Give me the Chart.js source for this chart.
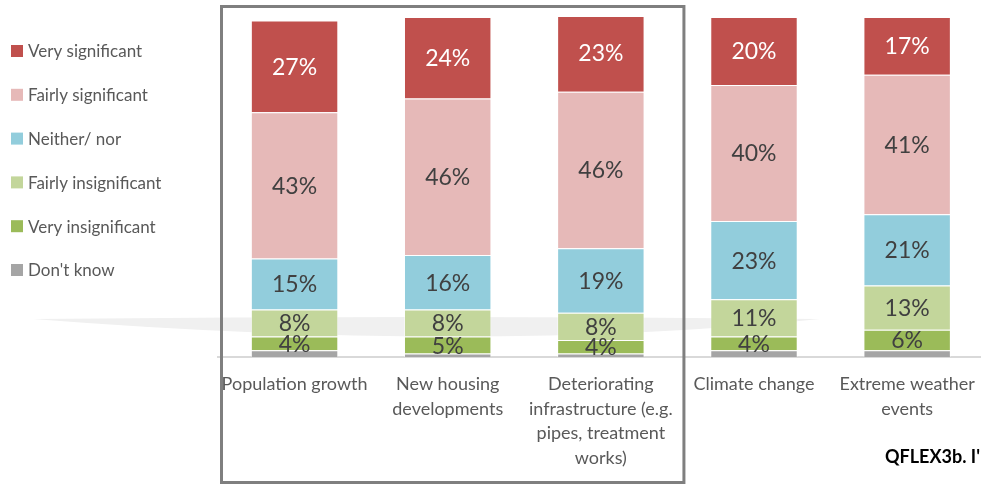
<!DOCTYPE html>
<html>
<head>
<meta charset="utf-8">
<title>Significance of pressures</title>
<script src="https://cdn.jsdelivr.net/npm/chart.js@4.4.1/dist/chart.umd.min.js"></script>
<style>
  html, body { margin: 0; padding: 0; background: #fff; overflow: hidden; }
  #wrap { position: relative; width: 990px; height: 486px; }
</style>
</head>
<body>
<div id="wrap"><canvas id="stackChart"></canvas></div>
<script>
// categories along the x axis (multi-line labels as arrays)
const categories = [
  'Population growth',
  ['New housing', 'developments'],
  ['Deteriorating', 'infrastructure (e.g.', 'pipes, treatment', 'works)'],
  'Climate change',
  ['Extreme weather', 'events']
];

// percentages per answer, bottom of the stack first
const dontKnow          = [2, 1, 1, 2, 2];
const veryInsignificant = [4, 5, 4, 4, 6];
const fairlyInsignificant = [8, 8, 8, 11, 13];
const neitherNor        = [15, 16, 19, 23, 21];
const fairlySignificant = [43, 46, 46, 40, 41];
const verySignificant   = [27, 24, 23, 20, 17];

const seriesNames = ["Don't know", 'Very insignificant', 'Fairly insignificant', 'Neither/ nor', 'Fairly significant', 'Very significant'];
const seriesValues = [dontKnow, veryInsignificant, fairlyInsignificant, neitherNor, fairlySignificant, verySignificant];
const seriesColors = ['#A5A5A5', '#9BBB59', '#C3D69B', '#92CDDC', '#E6B9B8', '#C0504D'];

const FONT = 'Lato, "Open Sans", sans-serif';

// faint swoosh behind the bars, box round the first three columns,
// value labels, legend and footnote text
const decorPlugin = {
  id: 'decor',
  beforeDatasetsDraw(chart) {
    const ctx = chart.ctx;
    ctx.save();
    ctx.fillStyle = '#f0f0f0';
    ctx.beginPath();
    ctx.moveTo(33, 319);
    ctx.quadraticCurveTo(430, 315, 820, 319);
    ctx.quadraticCurveTo(480, 354, 33, 319);
    ctx.closePath();
    ctx.fill();
    ctx.restore();
  },
  afterDatasetsDraw(chart) {
    const ctx = chart.ctx;
    ctx.save();
    ctx.font = '23px ' + FONT;
    ctx.textAlign = 'center';
    ctx.textBaseline = 'middle';
    chart.data.datasets.forEach((ds, di) => {
      if (di === 0) return; // no labels on "Don't know"
      const meta = chart.getDatasetMeta(di);
      meta.data.forEach((bar, i) => {
        const cy = (bar.y + bar.base) / 2;
        ctx.fillStyle = di === 5 ? '#ffffff' : '#404040';
        ctx.fillText(ds.data[i] + '%', bar.x, cy + 1);
      });
    });
    ctx.restore();
  },
  afterDraw(chart) {
    const ctx = chart.ctx;
    const x = chart.scales.x;
    const catW = x.getPixelForValue(1) - x.getPixelForValue(0);

    // box round the first three categories
    ctx.save();
    ctx.strokeStyle = '#7f7f7f';
    ctx.lineWidth = 3;
    const left = x.getPixelForValue(0) - catW / 2 + 3.5;
    const right = x.getPixelForValue(2) + catW / 2 + 6.5;
    ctx.strokeRect(left, 6.5, right - left, 476);

    // legend, top item first
    ctx.font = '17px ' + FONT;
    ctx.textBaseline = 'middle';
    ctx.textAlign = 'left';
    const items = chart.data.datasets.slice().reverse();
    items.forEach((ds, i) => {
      const cy = 51 + i * 43.8;
      ctx.fillStyle = ds.backgroundColor;
      ctx.fillRect(11, cy - 6, 12, 12);
      ctx.fillStyle = '#595959';
      ctx.fillText(ds.label, 28, cy + 1);
    });

    // footnote reference
    ctx.font = 'bold 18px ' + FONT;
    ctx.fillStyle = '#000000';
    ctx.textBaseline = 'alphabetic';
    ctx.fillText("QFLEX3b. I'", 885, 463);
    ctx.restore();
  }
};

const ctx = document.getElementById('stackChart').getContext('2d');
const stackChart = new Chart(ctx, {
  type: 'bar',
  data: {
    labels: categories,
    datasets: seriesNames.map((name, i) => ({
      label: name,
      data: seriesValues[i],
      backgroundColor: seriesColors[i],
      borderColor: 'rgba(255,255,255,0.45)',
      borderWidth: 1,
      barPercentage: 0.571,
      categoryPercentage: 1
    }))
  },
  options: {
    responsive: true,
    maintainAspectRatio: false,
    animation: false,
    layout: { padding: { left: 218, top: 17, right: 2, bottom: 0 } },
    plugins: {
      legend: { display: false },
      tooltip: { enabled: false }
    },
    scales: {
      x: {
        stacked: true,
        grid: { display: false, drawTicks: false },
        border: { display: true, color: '#d9d9d9', width: 2 },
        ticks: {
          color: '#595959',
          font: { family: FONT, size: 18, lineHeight: 1.37 },
          padding: 15,
          maxRotation: 0,
          autoSkip: false
        },
        afterFit(scale) { scale.height = 129; }
      },
      y: {
        stacked: true,
        display: false,
        min: 0,
        max: 100
      }
    }
  },
  plugins: [decorPlugin]
});
</script>
</body>
</html>
